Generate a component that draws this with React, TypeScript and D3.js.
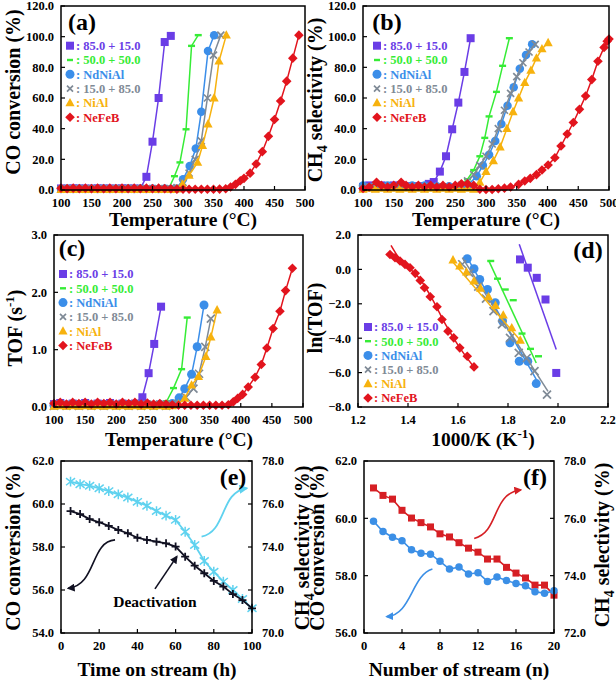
import React from 'react';
import * as d3 from 'd3';

type P = [number, number];
const FONT = '"Liberation Serif", "Times New Roman", serif';

const PURPLE = '#6a3de6', GREEN = '#36ec36', BLUE = '#3b8ee9', GRAY = '#7f8a96', ORANGE = '#f7b20e', RED = '#e2141d';
const CYAN = '#5fd2ef', BLACK = '#111122', F_RED = '#d61f24', F_BLUE = '#3b8fe6';

const legendNames = [': 85.0 + 15.0', ': 50.0 + 50.0', ': NdNiAl', ': 15.0 + 85.0', ': NiAl', ': NeFeB'];
const legendKinds = ['square', 'dash', 'circle', 'x', 'triangle', 'diamond'];
const legendColors = [PURPLE, GREEN, BLUE, GRAY, ORANGE, RED];

const tempTicks = [100, 150, 200, 250, 300, 350, 400, 450, 500];
const pctTicks = [0, 20, 40, 60, 80, 100, 120];
const tofTicks = [0, 1, 2, 3];
const invTicks = [1.2, 1.4, 1.6, 1.8, 2.0, 2.2];
const lnTicks = [-8, -6, -4, -2, 0, 2];
const timeTicks = [0, 20, 40, 60, 80, 100];
const eLeftTicks = [54, 56, 58, 60, 62];
const eRightTicks = [70, 72, 74, 76, 78];
const nTicks = [0, 4, 8, 12, 16, 20];
const fLeftTicks = [56, 58, 60, 62];
const fRightTicks = [72, 74, 76, 78];

// (a) CO conversion vs temperature
const a85: P[] = [[100,1.0],[110,0.8],[120,1.1],[130,0.9],[140,1.0],[150,0.8],[160,1.1],[170,0.9],[180,1.0],[190,0.8],[200,1.1],[210,0.9],[220,1.0],[230,0.8],[240,8.6],[250,31.5],[260,60.0],[270,96.5],[280,100.5]];
const a50: P[] = [[100,0.8],[110,1.2],[120,0.9],[130,1.1],[140,0.8],[150,1.2],[160,0.9],[170,1.1],[180,0.8],[190,1.2],[200,0.9],[210,1.1],[220,0.8],[230,1.2],[240,0.9],[250,1.1],[260,0.8],[270,1.2],[278,2.0],[286,9.0],[295,18.0],[305,39.6],[314,94.0],[325,101.0]];
const aNd: P[] = [[100,0.6],[110,1.0],[120,0.7],[130,1.0],[140,0.6],[150,1.0],[160,0.7],[170,1.0],[180,0.6],[190,1.0],[200,0.7],[210,1.0],[220,0.6],[230,1.0],[240,0.7],[250,1.0],[260,0.6],[270,1.0],[280,0.7],[290,0.9],[300,7.0],[311,15.6],[321,27.0],[330,51.0],[341,90.6],[351,101.0]];
const a15: P[] = [[100,0.5],[110,0.9],[120,0.6],[130,0.9],[140,0.5],[150,0.9],[160,0.6],[170,0.9],[180,0.5],[190,0.9],[200,0.6],[210,0.9],[220,0.5],[230,0.9],[240,0.6],[250,0.9],[260,0.5],[270,0.9],[280,0.6],[290,1.5],[300,5.0],[310,11.0],[320,20.0],[330,32.0],[340,60.0],[350,88.0],[362,101.0]];
const aNi: P[] = [[100,0.3],[110,0.5],[120,0.2],[130,0.5],[140,0.3],[150,0.5],[160,0.2],[170,0.5],[180,0.3],[190,0.5],[200,0.2],[210,0.5],[220,0.3],[230,0.5],[240,0.2],[250,0.5],[260,0.3],[270,0.5],[280,0.2],[290,0.6],[299,3.7],[310,9.5],[324,18.0],[332,29.0],[341,43.0],[351,60.0],[359,84.0],[371,101.0]];
const aFe: P[] = [[100,1.2],[110,0.9],[120,1.2],[130,0.9],[140,1.2],[150,0.9],[160,1.2],[170,0.9],[180,1.2],[190,0.9],[200,1.2],[210,0.9],[220,1.2],[230,0.9],[240,1.2],[250,0.9],[260,1.2],[270,0.9],[280,0.8],[290,0.6],[300,0.5],[310,0.5],[320,0.5],[330,0.5],[340,0.5],[350,0.5],[360,0.6],[370,0.8],[378,2.0],[386,3.7],[394,6.0],[400,7.6],[410,11.0],[420,17.0],[430,25.0],[440,35.0],[450,46.0],[460,58.0],[470,71.0],[480,86.0],[490,101.0]];

// (b) CH4 selectivity vs temperature
const b85: P[] = [[100,2.0],[110,3.0],[120,2.0],[130,3.0],[140,1.5],[150,3.0],[160,2.0],[170,2.5],[180,1.5],[190,2.5],[200,2.0],[207,4.0],[215,5.2],[225,12.0],[235,22.0],[245,39.6],[255,57.0],[265,77.0],[275,99.0]];
const b50: P[] = [[100,1.0],[110,2.0],[120,1.0],[130,2.5],[140,1.0],[150,2.0],[160,1.0],[170,2.0],[180,1.0],[190,2.0],[200,1.0],[210,2.0],[220,1.0],[230,2.0],[240,1.0],[250,1.5],[260,3.0],[270,7.0],[280,13.0],[290,22.0],[298,34.0],[305,48.0],[317,64.0],[327,81.0],[338,99.0]];
const bNd: P[] = [[100,3.0],[110,2.0],[120,3.0],[130,2.0],[140,3.0],[150,2.0],[160,3.0],[170,2.0],[180,3.0],[190,2.0],[200,3.0],[210,2.0],[220,2.5],[230,2.0],[240,2.5],[250,2.0],[260,1.5],[270,3.0],[285,9.0],[295,16.0],[305,23.0],[315,32.0],[325,43.0],[335,55.0],[345,67.0],[355,79.0],[365,88.0],[375,95.0]];
const b15: P[] = [[100,1.0],[110,2.0],[120,1.0],[130,2.0],[140,1.0],[150,2.0],[160,1.0],[170,2.0],[180,1.0],[190,2.0],[200,1.0],[210,2.0],[220,1.0],[230,2.0],[240,1.0],[250,1.0],[260,3.0],[270,6.0],[280,10.0],[290,16.0],[300,22.0],[310,30.0],[320,40.0],[330,52.0],[340,63.0],[350,74.0],[360,83.0],[370,90.0],[380,95.0]];
const bNi: P[] = [[100,0.5],[110,1.0],[120,0.5],[130,1.0],[140,0.5],[150,1.0],[160,0.5],[170,1.0],[180,0.5],[190,1.0],[200,0.5],[210,1.0],[220,0.5],[230,1.0],[240,0.5],[250,1.0],[260,0.5],[270,1.0],[280,0.5],[290,5.0],[300,12.0],[312,19.0],[323,28.0],[334,40.0],[344,51.0],[353,60.0],[363,70.0],[373,78.0],[382,86.0],[391,92.0],[401,96.0]];
const bFe: P[] = [[100,1.0],[110,2.0],[122,5.0],[130,3.0],[140,2.0],[150,3.0],[162,5.0],[170,3.0],[180,2.0],[190,3.0],[200,2.0],[210,3.0],[220,2.0],[230,3.0],[240,2.0],[250,3.0],[260,4.0],[270,4.0],[280,3.0],[290,0.5],[300,0.3],[310,0.3],[320,0.8],[330,1.2],[340,2.0],[353,3.7],[363,5.9],[372,7.6],[382,10.0],[391,13.0],[401,16.3],[412,21.0],[422,28.7],[432,36.5],[442,44.0],[452,52.6],[462,61.3],[472,72.0],[482,84.0],[492,93.0],[497,97.0],[500,98.5]];

// (c) TOF vs temperature
const c85: P[] = [[100,0.05],[110,0.07],[120,0.04],[130,0.06],[140,0.05],[150,0.07],[160,0.04],[170,0.06],[180,0.05],[190,0.07],[200,0.04],[210,0.06],[220,0.05],[230,0.06],[242,0.17],[252,0.59],[261,1.1],[272,1.75]];
const c50: P[] = [[100,0.04],[110,0.06],[120,0.03],[130,0.06],[140,0.04],[150,0.06],[160,0.03],[170,0.06],[180,0.04],[190,0.06],[200,0.03],[210,0.06],[220,0.04],[230,0.06],[240,0.03],[250,0.06],[260,0.04],[270,0.05],[281,0.1],[292,0.33],[305,0.66],[314,1.56]];
const cNd: P[] = [[100,0.03],[110,0.05],[120,0.03],[130,0.05],[140,0.03],[150,0.05],[160,0.03],[170,0.05],[180,0.03],[190,0.05],[200,0.03],[210,0.05],[220,0.03],[230,0.05],[240,0.03],[250,0.05],[260,0.03],[270,0.05],[280,0.03],[290,0.06],[301,0.16],[310,0.32],[321,0.57],[330,1.05],[341,1.78]];
const c15: P[] = [[100,0.02],[110,0.04],[120,0.02],[130,0.04],[140,0.02],[150,0.04],[160,0.02],[170,0.04],[180,0.02],[190,0.04],[200,0.02],[210,0.04],[220,0.02],[230,0.04],[240,0.02],[250,0.04],[260,0.02],[270,0.04],[280,0.02],[290,0.04],[300,0.06],[312,0.17],[324,0.32],[333,0.58],[343,1.05],[352,1.54]];
const cNi: P[] = [[100,0.01],[110,0.02],[120,0.01],[130,0.02],[140,0.01],[150,0.02],[160,0.01],[170,0.02],[180,0.01],[190,0.02],[200,0.01],[210,0.02],[220,0.01],[230,0.02],[240,0.01],[250,0.02],[260,0.01],[270,0.02],[280,0.01],[290,0.02],[300,0.05],[310,0.15],[321,0.38],[332,0.53],[344,0.88],[352,1.22],[362,1.69]];
const cFe: P[] = [[100,0.06],[110,0.08],[120,0.05],[130,0.08],[140,0.06],[150,0.08],[160,0.05],[170,0.08],[180,0.06],[190,0.08],[200,0.05],[210,0.08],[220,0.06],[230,0.08],[240,0.05],[250,0.07],[260,0.05],[270,0.06],[280,0.05],[290,0.04],[300,0.03],[310,0.03],[320,0.03],[330,0.03],[340,0.03],[350,0.03],[360,0.03],[370,0.03],[380,0.04],[388,0.09],[395,0.15],[403,0.22],[412,0.35],[423,0.52],[433,0.74],[442,1.03],[452,1.37],[463,1.67],[472,2.03],[483,2.42]];

// (d) Arrhenius plot
const d85: P[] = [[1.848,0.58],[1.879,0.1],[1.915,-0.49],[1.95,-1.75],[1.993,-6.02]];
const d50: P[] = [[1.731,0.49],[1.758,-0.54],[1.789,-1.17],[1.821,-1.79],[1.856,-3.73],[1.89,-4.62],[1.922,-5.05]];
const dNd: P[] = [[1.637,0.62],[1.664,0.04],[1.687,-0.58],[1.718,-1.17],[1.749,-1.94],[1.778,-3.0],[1.808,-4.27],[1.845,-5.34],[1.879,-5.34],[1.913,-6.64]];
const d15: P[] = [[1.617,0.3],[1.645,-0.2],[1.681,-1.0],[1.712,-1.7],[1.742,-2.43],[1.776,-3.2],[1.808,-3.98],[1.843,-4.85],[1.875,-5.15],[1.906,-5.92],[1.956,-7.28]];
const dNi: P[] = [[1.58,0.54],[1.607,0.19],[1.634,-0.16],[1.664,-0.68],[1.69,-1.1],[1.722,-1.59],[1.75,-2.1],[1.781,-2.66],[1.815,-3.4],[1.849,-4.12]];
const dFe: P[] = [[1.328,0.87],[1.348,0.68],[1.368,0.49],[1.388,0.29],[1.408,0.1],[1.429,-0.23],[1.449,-0.64],[1.466,-1.07],[1.489,-1.59],[1.516,-2.17],[1.536,-2.91],[1.56,-3.59],[1.583,-3.98],[1.607,-4.56],[1.637,-5.05],[1.664,-5.67]];
const dFit85: P[] = [[1.845,1.46],[1.993,-4.66]];
const dFit50: P[] = [[1.722,0.54],[1.913,-5.44]];
const dFitNd: P[] = [[1.637,0.68],[1.913,-6.4]];
const dFit15: P[] = [[1.617,0.68],[1.96,-7.09]];
const dFitNi: P[] = [[1.576,0.49],[1.852,-4.17]];
const dFitFe: P[] = [[1.332,1.4],[1.36,0.75],[1.4,0.15],[1.45,-0.6],[1.5,-1.8],[1.55,-3.2],[1.6,-4.4],[1.665,-5.7]];

// (e) time on stream
const eTime = [5,10,15,20,25,30,35,40,45,50,55,60,65,70,75,80,85,90,95,100];
const eCO = [59.67,59.53,59.3,59.15,58.98,58.79,58.64,58.43,58.33,58.25,58.17,58.02,57.55,57.13,56.78,56.42,56.16,55.81,55.53,55.15];
const eCH4 = [77.04,76.92,76.85,76.73,76.6,76.45,76.3,76.1,75.92,75.67,75.46,75.26,74.71,74.09,73.35,72.85,72.39,72.0,71.58,71.15];
const eArrowCO: P[] = [[28.3,58.33],[15.2,58.25],[18.7,56.23],[3.8,56.08]];
const eArrowDeact: P[] = [[49.2,56.05],[60.6,57.55]];
const eArrowCH4: P[] = [[73.6,58.48],[86.8,58.71],[83.2,60.57],[97.2,60.73]];
const eNote: P = [49.2, 55.45];

// (f) number of stream
const fRun = [1,2,3,4,5,6,7,8,9,10,11,12,13,14,15,16,17,18,19,20];
const fCO = [59.9,59.54,59.34,59.22,58.9,58.78,58.75,58.5,58.23,58.3,58.06,58.1,57.8,57.95,57.83,57.73,57.65,57.44,57.39,57.47];
const fCH4 = [77.06,76.8,76.67,76.28,76.01,75.85,75.7,75.46,75.35,75.15,74.96,74.82,74.58,74.58,74.29,74.09,73.92,73.67,73.67,73.32];
const fArrowCH4: P[] = [[11.6,59.3],[14.3,59.53],[13.4,60.87],[16.5,60.99]];
const fArrowCO: P[] = [[7.2,58.23],[5.0,58.02],[5.0,56.63],[2.4,56.57]];

type Ser = { data: P[]; kind: string; color: string; size: number; connect: boolean; fit?: P[] };

function Mark({ kind, x, y, c, s }: { kind: string; x: number; y: number; c: string; s: number }) {
  const h = s / 2;
  switch (kind) {
    case 'square': return <rect x={x - h} y={y - h} width={s} height={s} fill={c} />;
    case 'circle': return <circle cx={x} cy={y} r={h} fill={c} />;
    case 'diamond': { const k = h * 1.2; return <path d={`M${x},${y - k}L${x + k},${y}L${x},${y + k}L${x - k},${y}Z`} fill={c} />; }
    case 'triangle': return <path d={`M${x},${y - h * 1.25}L${x + h * 1.15},${y + h * 0.85}L${x - h * 1.15},${y + h * 0.85}Z`} fill={c} />;
    case 'x': return <path d={`M${x - h},${y - h}L${x + h},${y + h}M${x - h},${y + h}L${x + h},${y - h}`} stroke={c} strokeWidth={1.7} />;
    case 'dash': return <path d={`M${x - h},${y}L${x + h},${y}`} stroke={c} strokeWidth={2.4} />;
    case 'plus': return <path d={`M${x - h},${y}L${x + h},${y}M${x},${y - h}L${x},${y + h}`} stroke={c} strokeWidth={1.8} />;
    case 'star': return <path d={`M${x - h},${y - h * 0.8}L${x + h},${y + h * 0.8}M${x - h},${y + h * 0.8}L${x + h},${y - h * 0.8}M${x},${y - h * 1.1}L${x},${y + h * 1.1}`} stroke={c} strokeWidth={1.5} />;
  }
  return null;
}

type Sc = d3.ScaleLinear<number, number>;

function Axes({ x, y, xt, yt, xf, yf, yr, yrt, yrf }: { x: Sc; y: Sc; xt: number[]; yt: number[]; xf: (v: number) => string; yf: (v: number) => string; yr?: Sc; yrt?: number[]; yrf?: (v: number) => string }) {
  const [xa, xb] = x.range();
  const [yb, ya] = y.range();
  return (
    <g>
      <rect x={xa} y={ya} width={xb - xa} height={yb - ya} fill="none" stroke="#000" strokeWidth={1.5} />
      {yt.map(t => (
        <g key={'y' + t}>
          <line x1={xa} x2={xa + 4} y1={y(t)} y2={y(t)} stroke="#000" strokeWidth={1.2} />
          <text x={xa - 7} y={y(t)} dy="0.35em" textAnchor="end" fontSize={12.5} fontWeight="bold">{yf(t)}</text>
        </g>
      ))}
      {xt.map(t => (
        <g key={'x' + t}>
          <line x1={x(t)} x2={x(t)} y1={yb} y2={yb - 4} stroke="#000" strokeWidth={1.2} />
          <text x={x(t)} y={yb + 16.5} textAnchor="middle" fontSize={12.5} fontWeight="bold">{xf(t)}</text>
        </g>
      ))}
      {yr && yrt && yrf && yrt.map(t => (
        <g key={'r' + t}>
          <line x1={xb} x2={xb - 4} y1={yr(t)} y2={yr(t)} stroke="#000" strokeWidth={1.2} />
          <text x={xb + 10} y={yr(t)} dy="0.35em" textAnchor="start" fontSize={12.5} fontWeight="bold">{yrf(t)}</text>
        </g>
      ))}
    </g>
  );
}

function SeriesG({ series, x, y }: { series: Ser[]; x: Sc; y: Sc }) {
  const line = d3.line<P>().x(d => x(d[0])).y(d => y(d[1]));
  const curve = d3.line<P>().x(d => x(d[0])).y(d => y(d[1])).curve(d3.curveMonotoneX);
  return (
    <g>
      {series.map((s, i) => (
        <g key={i}>
          {s.connect && <path d={line(s.data) || ''} fill="none" stroke={s.color} strokeWidth={1.5} />}
          {s.fit && <path d={(s.fit.length > 2 ? curve(s.fit) : line(s.fit)) || ''} fill="none" stroke={s.color} strokeWidth={1.5} />}
          {s.data.map((d, j) => <Mark key={j} kind={s.kind} x={x(d[0])} y={y(d[1])} c={s.color} s={s.size} />)}
        </g>
      ))}
    </g>
  );
}

function Legend({ x, y, dy }: { x: number; y: number; dy: number }) {
  return (
    <g>
      {legendNames.map((n, i) => (
        <g key={i}>
          <Mark kind={legendKinds[i]} x={x} y={y + i * dy} c={legendColors[i]} s={legendKinds[i] === 'circle' ? 9 : legendKinds[i] === 'dash' ? 6 : legendKinds[i] === 'x' ? 6 : 8} />
          <text x={x + 6} y={y + i * dy} dy="0.35em" fontSize={12.5} fontWeight="bold" fill={legendColors[i]}>{n}</text>
        </g>
      ))}
    </g>
  );
}

function YTitle({ x, y, children }: { x: number; y: number; children: React.ReactNode }) {
  return <text transform={`translate(${x + 7},${y}) rotate(-90)`} textAnchor="middle" fontSize={20} fontWeight="bold">{children}</text>;
}
function XTitle({ x, y, children }: { x: number; y: number; children: React.ReactNode }) {
  return <text x={x} y={y} textAnchor="middle" fontSize={19.5} fontWeight="bold">{children}</text>;
}
function PLabel({ x, y, t }: { x: number; y: number; t: string }) {
  return <text x={x} y={y} textAnchor="middle" fontSize={24} fontWeight="bold">{t}</text>;
}

const CH4 = (
  <>CH<tspan dy={5} fontSize={14}>4</tspan><tspan dy={-5}> selectivity (%)</tspan></>
);

function mkSer(d: P[][], sizes: number[], connect: boolean, fits?: P[][]): Ser[] {
  return d.map((data, i) => ({ data, kind: legendKinds[i], color: legendColors[i], size: sizes[i], connect, fit: fits ? fits[i] : undefined }));
}

export default function App() {
  const f1 = d3.format('.1f');
  const f0 = d3.format('d');

  const xa = d3.scaleLinear().domain([100, 500]).range([61, 305]);
  const ya = d3.scaleLinear().domain([0, 120]).range([190, 6]);
  const xb = d3.scaleLinear().domain([100, 500]).range([363, 609]);
  const yb = d3.scaleLinear().domain([0, 120]).range([190, 6]);
  const xc = d3.scaleLinear().domain([100, 500]).range([54, 303]);
  const yc = d3.scaleLinear().domain([0, 3]).range([407, 235]);
  const xd = d3.scaleLinear().domain([1.2, 2.2]).range([358, 608]);
  const yd = d3.scaleLinear().domain([-8, 2]).range([407, 235]);
  const xe = d3.scaleLinear().domain([0, 100]).range([61, 252]);
  const ye = d3.scaleLinear().domain([54, 62]).range([633, 461]);
  const ye2 = d3.scaleLinear().domain([70, 78]).range([633, 461]);
  const xf = d3.scaleLinear().domain([0, 20]).range([364, 554]);
  const yf = d3.scaleLinear().domain([56, 62]).range([633, 461]);
  const yf2 = d3.scaleLinear().domain([72, 78]).range([633, 461]);

  const sizesA = [8, 7, 8.5, 7, 8, 8];
  const serA = mkSer([a85, a50, aNd, a15, aNi, aFe], sizesA, true);
  const serB = mkSer([b85, b50, bNd, b15, bNi, bFe], sizesA, true);
  const serC = mkSer([c85, c50, cNd, c15, cNi, cFe], [8, 7, 9, 8, 8, 8], true);
  const serD = mkSer([d85, d50, dNd, d15, dNi, dFe], [8, 7, 9, 8, 8, 8], false, [dFit85, dFit50, dFitNd, dFit15, dFitNi, dFitFe]);

  const ePtsCO: P[] = eTime.map((t, i) => [t, eCO[i]]);
  const ePtsCH4: P[] = eTime.map((t, i) => [t, eCH4[i]]);
  const fPtsCO: P[] = fRun.map((t, i) => [t, fCO[i]]);
  const fPtsCH4: P[] = fRun.map((t, i) => [t, fCH4[i]]);

  const lineE = d3.line<P>().x(d => xe(d[0])).y(d => ye(d[1]));
  const lineE2 = d3.line<P>().x(d => xe(d[0])).y(d => ye2(d[1]));
  const lineF = d3.line<P>().x(d => xf(d[0])).y(d => yf(d[1]));
  const lineF2 = d3.line<P>().x(d => xf(d[0])).y(d => yf2(d[1]));

  const bez = (pts: P[], x: Sc, y: Sc) => {
    const p = d3.path();
    p.moveTo(x(pts[0][0]), y(pts[0][1]));
    if (pts.length === 4) p.bezierCurveTo(x(pts[1][0]), y(pts[1][1]), x(pts[2][0]), y(pts[2][1]), x(pts[3][0]), y(pts[3][1]));
    else p.lineTo(x(pts[1][0]), y(pts[1][1]));
    return p.toString();
  };

  const arrowDefs = [['ahBlack', BLACK], ['ahCyan', CYAN], ['ahRed', F_RED], ['ahBlue', F_BLUE]];

  return (
    <svg width={616} height={681} style={{ position: 'absolute', left: 0, top: 0, background: '#fff' }} fontFamily={FONT}>
      <defs>
        {arrowDefs.map(([id, c]) => (
          <marker key={id} id={id} viewBox="0 0 10 10" refX={8} refY={5} markerWidth={5} markerHeight={5} orient="auto" markerUnits="strokeWidth">
            <path d="M0,0L10,5L0,10Z" fill={c} />
          </marker>
        ))}
      </defs>
      <rect x={0} y={0} width={616} height={681} fill="#fff" />

      {/* (a) */}
      <SeriesG series={serA} x={xa} y={ya} />
      <Axes x={xa} y={ya} xt={tempTicks} yt={pctTicks} xf={f0} yf={f1} />
      <Legend x={70} y={45.7} dy={14.3} />
      <PLabel x={82} y={30} t="(a)" />
      <YTitle x={13} y={92}>CO conversion (%)</YTitle>
      <XTitle x={183} y={226}>Temperature (°C)</XTitle>

      {/* (b) */}
      <SeriesG series={serB} x={xb} y={yb} />
      <Axes x={xb} y={yb} xt={tempTicks} yt={pctTicks} xf={f0} yf={f1} />
      <Legend x={377} y={45.7} dy={14.3} />
      <PLabel x={387} y={30} t="(b)" />
      <YTitle x={315} y={100}>{CH4}</YTitle>
      <XTitle x={486} y={226}>Temperature (°C)</XTitle>

      {/* (c) */}
      <SeriesG series={serC} x={xc} y={yc} />
      <Axes x={xc} y={yc} xt={tempTicks} yt={tofTicks} xf={f0} yf={f1} />
      <Legend x={63} y={274} dy={14.3} />
      <PLabel x={72} y={256} t="(c)" />
      <YTitle x={15} y={328}>TOF (s<tspan dy={-8} fontSize={13}>-1</tspan><tspan dy={8}>)</tspan></YTitle>
      <XTitle x={179} y={446}>Temperature (°C)</XTitle>

      {/* (d) */}
      <SeriesG series={serD} x={xd} y={yd} />
      <Axes x={xd} y={yd} xt={invTicks} yt={lnTicks} xf={f1} yf={f1} />
      <Legend x={368} y={327} dy={14.2} />
      <PLabel x={588} y={258} t="(d)" />
      <YTitle x={315} y={318}>ln(TOF)</YTitle>
      <XTitle x={483} y={446}>1000/K (K<tspan dy={-8} fontSize={13}>-1</tspan><tspan dy={8}>)</tspan></XTitle>

      {/* (e) */}
      <path d={lineE2(ePtsCH4) || ''} fill="none" stroke={CYAN} strokeWidth={1.8} />
      {ePtsCH4.map((d, i) => <Mark key={'ec' + i} kind="star" x={xe(d[0])} y={ye2(d[1])} c={CYAN} s={9} />)}
      <path d={lineE(ePtsCO) || ''} fill="none" stroke={BLACK} strokeWidth={1.8} />
      {ePtsCO.map((d, i) => <Mark key={'eb' + i} kind="plus" x={xe(d[0])} y={ye(d[1])} c={BLACK} s={8} />)}
      <path d={bez(eArrowCO, xe, ye)} fill="none" stroke={BLACK} strokeWidth={1.6} markerEnd="url(#ahBlack)" />
      <path d={bez(eArrowDeact, xe, ye)} fill="none" stroke={BLACK} strokeWidth={1.6} markerEnd="url(#ahBlack)" />
      <path d={bez(eArrowCH4, xe, ye)} fill="none" stroke={CYAN} strokeWidth={1.8} markerEnd="url(#ahCyan)" />
      <text x={xe(eNote[0])} y={ye(eNote[1])} dy="0.35em" textAnchor="middle" fontSize={15.5} fontWeight="bold">Deactivation</text>
      <Axes x={xe} y={ye} xt={timeTicks} yt={eLeftTicks} xf={f0} yf={f1} yr={ye2} yrt={eRightTicks} yrf={f1} />
      <PLabel x={233} y={485} t="(e)" />
      <YTitle x={13} y={548}>CO conversion (%)</YTitle>
      <YTitle x={302} y={548}>{CH4}</YTitle>
      <XTitle x={157} y={676}>Time on stream (h)</XTitle>

      {/* (f) */}
      <path d={lineF2(fPtsCH4) || ''} fill="none" stroke={F_RED} strokeWidth={1.6} />
      {fPtsCH4.map((d, i) => <Mark key={'fr' + i} kind="square" x={xf(d[0])} y={yf2(d[1])} c={F_RED} s={7} />)}
      <path d={lineF(fPtsCO) || ''} fill="none" stroke={F_BLUE} strokeWidth={1.6} />
      {fPtsCO.map((d, i) => <Mark key={'fb' + i} kind="circle" x={xf(d[0])} y={yf(d[1])} c={F_BLUE} s={7.5} />)}
      <path d={bez(fArrowCH4, xf, yf)} fill="none" stroke={F_RED} strokeWidth={1.6} markerEnd="url(#ahRed)" />
      <path d={bez(fArrowCO, xf, yf)} fill="none" stroke={F_BLUE} strokeWidth={1.6} markerEnd="url(#ahBlue)" />
      <Axes x={xf} y={yf} xt={nTicks} yt={fLeftTicks} xf={f0} yf={f1} yr={yf2} yrt={fRightTicks} yrf={f1} />
      <PLabel x={535} y={485} t="(f)" />
      <YTitle x={317} y={548}>CO conversion (%)</YTitle>
      <YTitle x={602} y={545}>{CH4}</YTitle>
      <XTitle x={459} y={676}>Number of stream (n)</XTitle>
    </svg>
  );
}
